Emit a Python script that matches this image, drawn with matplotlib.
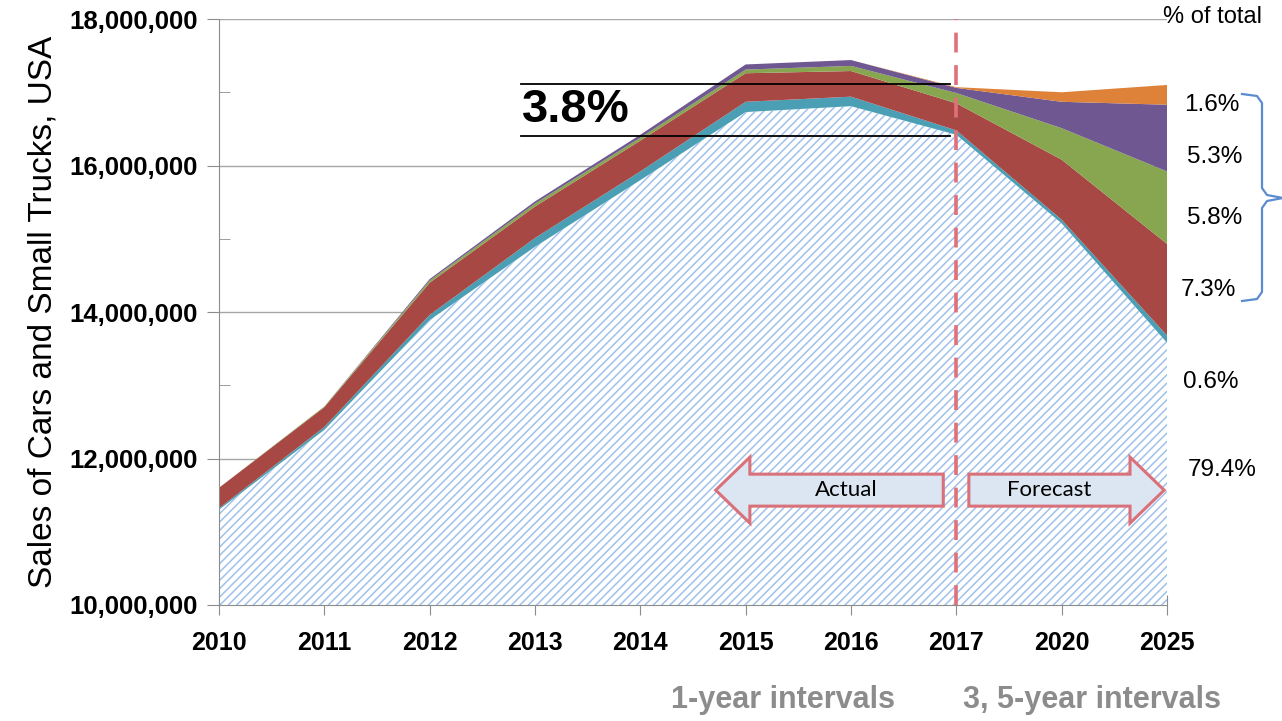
import numpy as np
import matplotlib
matplotlib.use("Agg")
import matplotlib.pyplot as plt
import matplotlib.patches as mpatches
from matplotlib.ticker import FuncFormatter, MultipleLocator

years = ["2010", "2011", "2012", "2013", "2014", "2015", "2016", "2017", "2020", "2025"]
# stacked layers, millions of units, bottom to top
conventional = [11.30, 12.39, 13.89, 14.89, 15.80, 16.73, 16.81, 16.42, 15.21, 13.58]
layer_teal = [0.02, 0.04, 0.07, 0.12, 0.12, 0.14, 0.13, 0.06, 0.05, 0.10]
layer_red = [0.28, 0.27, 0.44, 0.43, 0.42, 0.39, 0.35, 0.37, 0.82, 1.25]
layer_green = [0.00, 0.01, 0.03, 0.04, 0.04, 0.05, 0.07, 0.14, 0.43, 0.99]
layer_purple = [0.00, 0.00, 0.02, 0.03, 0.04, 0.07, 0.08, 0.07, 0.36, 0.91]
layer_orange = [0.00, 0.00, 0.00, 0.00, 0.00, 0.00, 0.00, 0.01, 0.13, 0.27]
share_labels = ["1.6%", "5.3%", "5.8%", "7.3%", "0.6%", "79.4%"]
gap_label = "3.8%"

plt.rcParams['font.family'] = ['Liberation Sans', 'DejaVu Sans']
plt.rcParams['hatch.linewidth'] = 1.1
narrow = ['Liberation Sans Narrow', 'Liberation Sans', 'DejaVu Sans']

fig = plt.figure(figsize=(12.82, 7.21), dpi=100)
ax = fig.add_axes([0.1708, 0.1609, 0.7395, 0.8127])

x = np.arange(len(years))
m = 1e6
layers = [conventional, layer_teal, layer_red, layer_green, layer_purple, layer_orange]
colors = ['#A0C1EA', '#4A9FB5', '#A84845', '#88A64F', '#6F5792', '#DD8238']
bottom = np.zeros(len(years))
for i, (vals, c) in enumerate(zip(layers, colors)):
    top = bottom + np.array(vals) * m
    if i == 0:
        ax.fill_between(x, bottom, top, facecolor='white', edgecolor=c,
                        hatch='////', linewidth=0)
    else:
        ax.fill_between(x, bottom, top, facecolor=c, edgecolor='none', linewidth=0)
    bottom = top

ax.set_xlim(0, len(years) - 1)
ax.set_ylim(10e6, 18e6)
ax.set_xticks(x)
ax.set_xticklabels(years)
ax.xaxis.set_minor_locator(MultipleLocator(0.5))
ax.yaxis.set_major_locator(MultipleLocator(2e6))
ax.yaxis.set_minor_locator(MultipleLocator(1e6))
ax.yaxis.set_major_formatter(FuncFormatter(lambda v, p: f"{int(v):,}"))
ax.grid(axis='y', color='#A6A6A6', linewidth=1)
ax.set_axisbelow(True)
for s in ['top', 'right']:
    ax.spines[s].set_visible(False)
for s in ['left', 'bottom']:
    ax.spines[s].set_color('#8C8C8C')
ax.tick_params(axis='y', which='major', direction='out', length=9, color='#8C8C8C',
               labelsize=18.5, pad=6)
ax.tick_params(axis='y', which='minor', direction='in', length=8, color='#8C8C8C')
ax.tick_params(axis='x', which='major', direction='inout', length=14, color='#8C8C8C',
               labelsize=18, pad=12)
ax.tick_params(axis='x', which='minor', direction='in', length=6, color='#8C8C8C')
for lab in ax.get_yticklabels():
    lab.set_fontweight('bold')
for lab in ax.get_xticklabels():
    lab.set_fontweight('bold')
    lab.set_family(narrow)
ax.set_ylabel("Sales of Cars and Small Trucks, USA", fontsize=24, labelpad=8)

# actual / forecast divider
ax.axvline(7, color='#E0707A', linewidth=2.6, dashes=(5.5, 3.5), zorder=5)

# 3.8% gap lines
ax.plot([2.87, 6.94], [17.11e6, 17.11e6], color='black', linewidth=1.3, zorder=6)
ax.plot([2.87, 6.94], [16.40e6, 16.40e6], color='black', linewidth=1.3, zorder=6)
ax.text(2.88, 16.76e6, gap_label, fontsize=34, fontweight='bold', va='center', ha='left')

# arrows
def arrow(x0, x1, head, tip_left, label):
    yc, bh, hh = 0.196, 0.0273, 0.0563
    if tip_left:
        pts = [(x0, yc), (head, yc + hh), (head, yc + bh), (x1, yc + bh),
               (x1, yc - bh), (head, yc - bh), (head, yc - hh)]
        tx = (head + x1) / 2
    else:
        pts = [(x1, yc), (head, yc + hh), (head, yc + bh), (x0, yc + bh),
               (x0, yc - bh), (head, yc - bh), (head, yc - hh)]
        tx = (head + x0) / 2
    ax.add_patch(mpatches.Polygon(pts, closed=True, transform=ax.transAxes,
                                  facecolor='#DCE6F2', edgecolor='#D9707A',
                                  linewidth=2.2, zorder=7, clip_on=False))
    ax.text(tx, yc, label, transform=ax.transAxes, ha='center', va='center',
            fontsize=16, family=['Lato', 'DejaVu Sans'], zorder=8)

arrow(0.524, 0.764, 0.560, True, "Actual")
arrow(0.791, 0.997, 0.961, False, "Forecast")

# right-hand share labels
def fx(px):
    return px / 1282
def fy(py):
    return 1 - py / 721

fig.text(fx(1163), fy(17), "% of total", fontsize=17, va='center', ha='left')
label_pos = [(1212, 105), (1215, 157), (1215, 218), (1208, 290), (1211, 382), (1222, 470)]
for (px, py), t in zip(label_pos, share_labels):
    fig.text(fx(px), fy(py), t, fontsize=17.5, va='center', ha='center')

bx = [1242, 1257, 1262, 1262, 1267, 1283, 1267, 1262, 1262, 1257, 1242]
by = [94, 96, 103, 188, 195, 198, 201, 208, 292, 299, 301]
fig.add_artist(plt.Line2D([fx(v) for v in bx], [fy(v) for v in by],
                          transform=fig.transFigure, color='#5B8BD0', linewidth=1.6))

fig.text(fx(783), fy(700), "1-year intervals", fontsize=22, fontweight='bold',
         color='#8C8C8C', ha='center', va='center', family=narrow)
fig.text(fx(1092), fy(700), "3, 5-year intervals", fontsize=22, fontweight='bold',
         color='#8C8C8C', ha='center', va='center', family=narrow)

fig.savefig("out.png", dpi=100)
